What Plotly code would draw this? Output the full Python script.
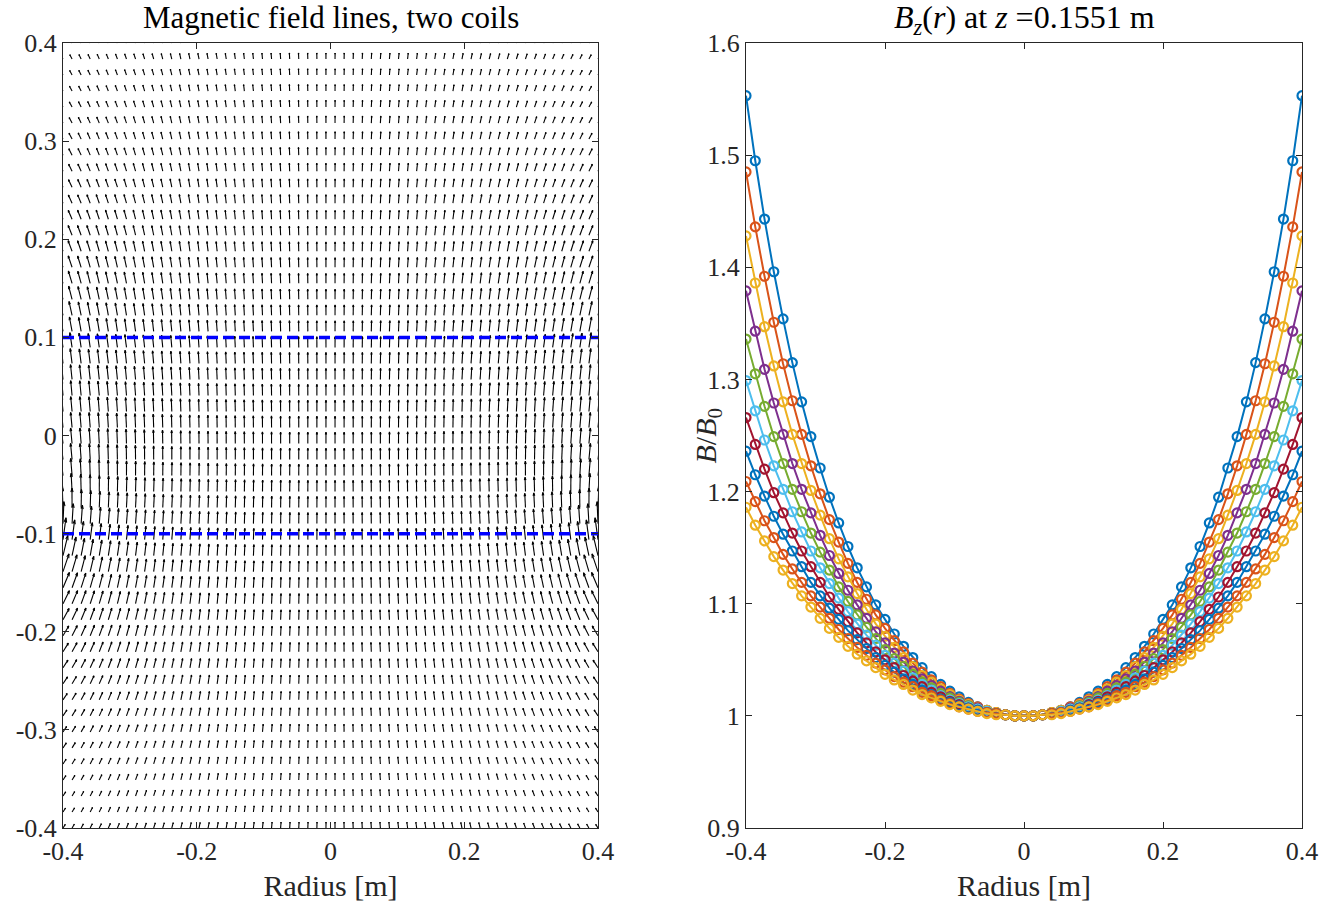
import numpy as np
import plotly.graph_objects as go
import plotly.figure_factory as ff
from plotly.subplots import make_subplots

# ---- right panel: B/B0 versus radius, ten curves ----
r_line = np.linspace(-0.4, 0.4, 61)

b_1 = [1.553, 1.495, 1.443, 1.396, 1.354, 1.315, 1.280, 1.249, 1.221, 1.195,
       1.172, 1.151, 1.132, 1.115, 1.099, 1.086, 1.073, 1.062, 1.052, 1.043,
       1.035, 1.028, 1.022, 1.017, 1.012, 1.008, 1.005, 1.003, 1.001, 1.000,
       1.000,
       1.000, 1.001, 1.003, 1.005, 1.008, 1.012, 1.017, 1.022, 1.028, 1.035,
       1.043, 1.052, 1.062, 1.073, 1.086, 1.099, 1.115, 1.132, 1.151, 1.172,
       1.195, 1.221, 1.249, 1.280, 1.315, 1.354, 1.396, 1.443, 1.495, 1.553]
b_2 = [1.485, 1.436, 1.392, 1.351, 1.314, 1.281, 1.251, 1.223, 1.198, 1.175,
       1.155, 1.136, 1.119, 1.104, 1.090, 1.078, 1.067, 1.057, 1.047, 1.039,
       1.032, 1.026, 1.020, 1.015, 1.011, 1.008, 1.005, 1.003, 1.001, 1.000,
       1.000,
       1.000, 1.001, 1.003, 1.005, 1.008, 1.011, 1.015, 1.020, 1.026, 1.032,
       1.039, 1.047, 1.057, 1.067, 1.078, 1.090, 1.104, 1.119, 1.136, 1.155,
       1.175, 1.198, 1.223, 1.251, 1.281, 1.314, 1.351, 1.392, 1.436, 1.485]
b_3 = [1.428, 1.386, 1.347, 1.312, 1.280, 1.251, 1.225, 1.201, 1.179, 1.158,
       1.140, 1.124, 1.109, 1.095, 1.082, 1.071, 1.061, 1.052, 1.044, 1.036,
       1.030, 1.024, 1.019, 1.014, 1.010, 1.007, 1.005, 1.003, 1.001, 1.000,
       1.000,
       1.000, 1.001, 1.003, 1.005, 1.007, 1.010, 1.014, 1.019, 1.024, 1.030,
       1.036, 1.044, 1.052, 1.061, 1.071, 1.082, 1.095, 1.109, 1.124, 1.140,
       1.158, 1.179, 1.201, 1.225, 1.251, 1.280, 1.312, 1.347, 1.386, 1.428]
b_4 = [1.379, 1.343, 1.309, 1.279, 1.251, 1.225, 1.202, 1.181, 1.161, 1.143,
       1.127, 1.112, 1.099, 1.087, 1.075, 1.065, 1.056, 1.048, 1.040, 1.033,
       1.027, 1.022, 1.017, 1.013, 1.009, 1.007, 1.004, 1.002, 1.001, 1.000,
       1.000,
       1.000, 1.001, 1.002, 1.004, 1.007, 1.009, 1.013, 1.017, 1.022, 1.027,
       1.033, 1.040, 1.048, 1.056, 1.065, 1.075, 1.087, 1.099, 1.112, 1.127,
       1.143, 1.161, 1.181, 1.202, 1.225, 1.251, 1.279, 1.309, 1.343, 1.379]
b_5 = [1.336, 1.305, 1.276, 1.249, 1.225, 1.202, 1.182, 1.163, 1.146, 1.130,
       1.115, 1.102, 1.090, 1.079, 1.069, 1.059, 1.051, 1.044, 1.037, 1.030,
       1.025, 1.020, 1.016, 1.012, 1.009, 1.006, 1.004, 1.002, 1.001, 1.000,
       1.000,
       1.000, 1.001, 1.002, 1.004, 1.006, 1.009, 1.012, 1.016, 1.020, 1.025,
       1.030, 1.037, 1.044, 1.051, 1.059, 1.069, 1.079, 1.090, 1.102, 1.115,
       1.130, 1.146, 1.163, 1.182, 1.202, 1.225, 1.249, 1.276, 1.305, 1.336]
b_6 = [1.299, 1.272, 1.246, 1.223, 1.202, 1.182, 1.164, 1.147, 1.132, 1.118,
       1.105, 1.093, 1.082, 1.072, 1.063, 1.054, 1.047, 1.040, 1.034, 1.028,
       1.023, 1.018, 1.014, 1.011, 1.008, 1.006, 1.004, 1.002, 1.001, 1.000,
       1.000,
       1.000, 1.001, 1.002, 1.004, 1.006, 1.008, 1.011, 1.014, 1.018, 1.023,
       1.028, 1.034, 1.040, 1.047, 1.054, 1.063, 1.072, 1.082, 1.093, 1.105,
       1.118, 1.132, 1.147, 1.164, 1.182, 1.202, 1.223, 1.246, 1.272, 1.299]
b_7 = [1.266, 1.242, 1.220, 1.199, 1.181, 1.163, 1.147, 1.133, 1.119, 1.106,
       1.095, 1.084, 1.074, 1.065, 1.057, 1.050, 1.043, 1.036, 1.031, 1.026,
       1.021, 1.017, 1.013, 1.010, 1.007, 1.005, 1.003, 1.002, 1.001, 1.000,
       1.000,
       1.000, 1.001, 1.002, 1.003, 1.005, 1.007, 1.010, 1.013, 1.017, 1.021,
       1.026, 1.031, 1.036, 1.043, 1.050, 1.057, 1.065, 1.074, 1.084, 1.095,
       1.106, 1.119, 1.133, 1.147, 1.163, 1.181, 1.199, 1.220, 1.242, 1.266]
b_8 = [1.236, 1.215, 1.196, 1.178, 1.162, 1.147, 1.133, 1.119, 1.107, 1.096,
       1.086, 1.076, 1.068, 1.060, 1.052, 1.045, 1.039, 1.033, 1.028, 1.023,
       1.019, 1.015, 1.012, 1.009, 1.007, 1.005, 1.003, 1.002, 1.001, 1.000,
       1.000,
       1.000, 1.001, 1.002, 1.003, 1.005, 1.007, 1.009, 1.012, 1.015, 1.019,
       1.023, 1.028, 1.033, 1.039, 1.045, 1.052, 1.060, 1.068, 1.076, 1.086,
       1.096, 1.107, 1.119, 1.133, 1.147, 1.162, 1.178, 1.196, 1.215, 1.236]
b_9 = [1.209, 1.191, 1.174, 1.159, 1.144, 1.131, 1.119, 1.107, 1.097, 1.087,
       1.077, 1.069, 1.061, 1.054, 1.047, 1.041, 1.035, 1.030, 1.026, 1.021,
       1.018, 1.014, 1.011, 1.008, 1.006, 1.004, 1.003, 1.002, 1.001, 1.000,
       1.000,
       1.000, 1.001, 1.002, 1.003, 1.004, 1.006, 1.008, 1.011, 1.014, 1.018,
       1.021, 1.026, 1.030, 1.035, 1.041, 1.047, 1.054, 1.061, 1.069, 1.077,
       1.087, 1.097, 1.107, 1.119, 1.131, 1.144, 1.159, 1.174, 1.191, 1.209]
b_10 = [1.186, 1.170, 1.156, 1.142, 1.130, 1.118, 1.107, 1.097, 1.087, 1.078,
        1.070, 1.062, 1.055, 1.049, 1.043, 1.037, 1.032, 1.028, 1.023, 1.019,
        1.016, 1.013, 1.010, 1.008, 1.006, 1.004, 1.002, 1.001, 1.001, 1.000,
        1.000,
        1.000, 1.001, 1.001, 1.002, 1.004, 1.006, 1.008, 1.010, 1.013, 1.016,
        1.019, 1.023, 1.028, 1.032, 1.037, 1.043, 1.049, 1.055, 1.062, 1.070,
        1.078, 1.087, 1.097, 1.107, 1.118, 1.130, 1.142, 1.156, 1.170, 1.186]
curves = [b_1, b_2, b_3, b_4, b_5, b_6, b_7, b_8, b_9, b_10]

# matlab default line colours
colors = ["#0072BD", "#D95319", "#EDB120", "#7E2F8E", "#77AC30",
          "#4DBEEE", "#A2142F"]

# ---- left panel: quiver grid and the two coils ----
r_grid = np.linspace(-0.4, 0.4, 60)
z_grid = np.linspace(-0.4, 0.4, 50)
coil_z = [-0.1, 0.1]
coil_radius = [0.47, 0.52]


def loop_field(R, zc, X, Z, n=720):
    # Biot-Savart sum over a circular loop in the x-y plane at height zc
    phi = np.linspace(0, 2 * np.pi, n, endpoint=False)
    dphi = 2 * np.pi / n
    qx = R * np.cos(phi)
    qy = R * np.sin(phi)
    dlx = -R * np.sin(phi) * dphi
    dly = R * np.cos(phi) * dphi
    px = X.ravel()[:, None]
    pz = Z.ravel()[:, None]
    rx = px - qx
    ry = -qy
    rz = pz - zc
    d3 = (rx ** 2 + ry ** 2 + rz ** 2) ** 1.5
    bx = (dly * rz / d3).sum(1)
    bz = ((dlx * ry - dly * rx) / d3).sum(1)
    return bx.reshape(X.shape), bz.reshape(X.shape)


X, Z = np.meshgrid(r_grid, z_grid)
U = np.zeros_like(X)
V = np.zeros_like(X)
for R, zc in zip(coil_radius, coil_z):
    bx, bz = loop_field(R, zc, X, Z)
    U += bx
    V += bz

mag = np.sqrt(U ** 2 + V ** 2)
centre = mag[len(z_grid) // 2, len(r_grid) // 2]
scale = 0.0115 / centre
lim = 0.03 / scale
f = np.minimum(1.0, lim / mag)
U = U * f
V = V * f

fig = make_subplots(rows=1, cols=2)

q = ff.create_quiver(X.ravel(), Z.ravel(), U.ravel(), V.ravel(),
                     scale=scale, arrow_scale=0.22, angle=np.pi / 8,
                     line=dict(color="black", width=1.1))
for tr in q.data:
    tr.showlegend = False
    fig.add_trace(tr, row=1, col=1)

for zc in coil_z:
    fig.add_trace(go.Scatter(x=[r_grid[0], r_grid[-1]], y=[zc, zc], mode="lines",
                             line=dict(color="#0000FF", width=3.5, dash="11px,5px"),
                             showlegend=False), row=1, col=1)

for i, c in enumerate(curves):
    col = colors[i % len(colors)]
    fig.add_trace(go.Scatter(x=r_line, y=c, mode="lines+markers",
                             line=dict(color=col, width=2),
                             marker=dict(symbol="circle-open", size=9,
                                         color=col, line=dict(width=2.2)),
                             showlegend=False), row=1, col=2)

W, H = 1330, 908
font = "Liberation Serif"
axcol = "#262626"
common = dict(showgrid=False, zeroline=False, showline=True, mirror="ticks",
              linecolor=axcol, linewidth=1, ticks="inside", ticklen=6,
              tickcolor=axcol, automargin=False,
              tickfont=dict(family=font, size=26, color=axcol))

xt = [-0.4, -0.2, 0, 0.2, 0.4]
xtt = ["-0.4", "-0.2", "0", "0.2", "0.4"]
ylt = [-0.4, -0.3, -0.2, -0.1, 0, 0.1, 0.2, 0.3, 0.4]
yltt = ["-0.4", "-0.3", "-0.2", "-0.1", "0", "0.1", "0.2", "0.3", "0.4"]
yrt = [0.9, 1.0, 1.1, 1.2, 1.3, 1.4, 1.5, 1.6]
yrtt = ["0.9", "1", "1.1", "1.2", "1.3", "1.4", "1.5", "1.6"]

ydom = [1 - 828 / H, 1 - 43 / H]
fig.update_xaxes(range=[-0.4, 0.4], tickvals=xt, ticktext=xtt,
                 title=dict(text="Radius [m]", standoff=9,
                            font=dict(family=font, size=30, color=axcol)),
                 **common)
fig.update_xaxes(domain=[63 / W, 598 / W], row=1, col=1)
fig.update_xaxes(domain=[746 / W, 1302 / W], row=1, col=2)
fig.update_yaxes(range=[-0.4, 0.4], tickvals=ylt, ticktext=yltt,
                 domain=ydom, row=1, col=1, **common)
fig.update_yaxes(range=[0.9, 1.6], tickvals=yrt, ticktext=yrtt,
                 domain=ydom, row=1, col=2, **common)

fig.add_annotation(text="<i>B</i>/<i>B</i><sub>0</sub>", textangle=-90,
                   xref="paper", yref="y2 domain", x=707 / W, y=0.5,
                   xanchor="center", yanchor="middle", showarrow=False,
                   font=dict(family=font, size=30, color=axcol))
fig.add_annotation(text="Magnetic field lines, two coils", xref="x domain",
                   yref="y domain", x=0.5, y=1, yanchor="bottom", yshift=6,
                   showarrow=False, font=dict(family=font, size=31, color="black"))
fig.add_annotation(text="<i>B<sub>z</sub></i>(<i>r</i>) at <i>z</i> =0.1551 m",
                   xref="x2 domain", yref="y2 domain", x=0.5, y=1,
                   yanchor="bottom", yshift=1, showarrow=False,
                   font=dict(family=font, size=32, color="black"))

fig.update_layout(width=W, height=H, margin=dict(l=0, r=0, t=0, b=0),
                  plot_bgcolor="white", paper_bgcolor="white")

# drop the default page margin so the figure sits in the window corner
fig.write_html("out.html", config={"displayModeBar": False},
               post_script="document.body.style.margin='0px';")
